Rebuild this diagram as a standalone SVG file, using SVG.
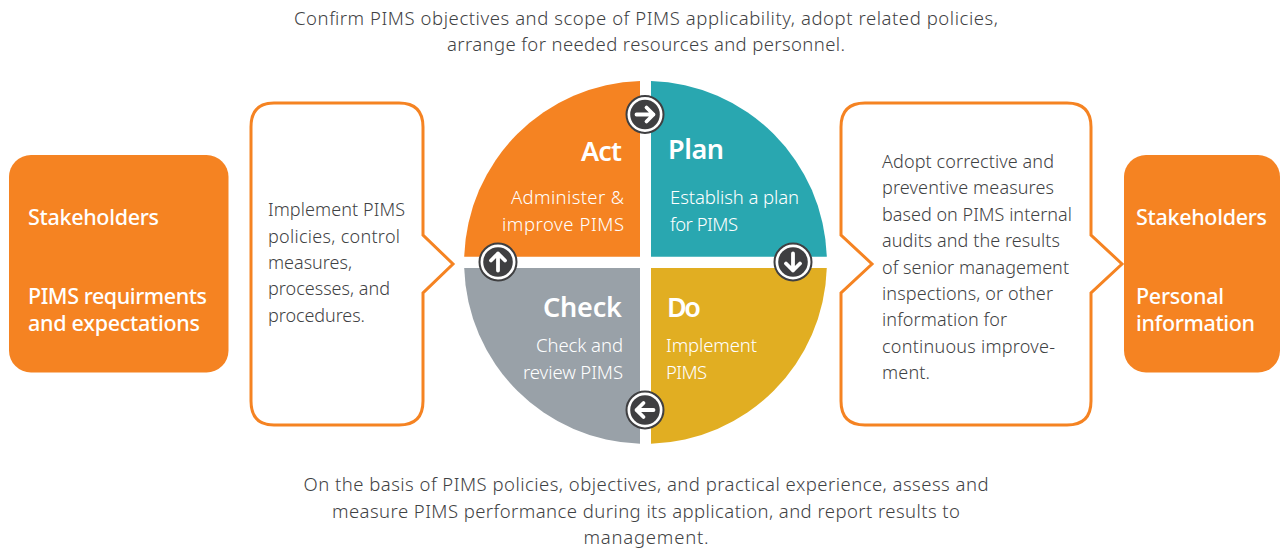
<svg xmlns="http://www.w3.org/2000/svg" width="1282" height="551" viewBox="0 0 1282 551">
<style>
text{font-family:"Noto Sans","Lato","Liberation Sans",sans-serif}
.body{font-size:18px;font-weight:300;fill:#3f4244}
.cap{font-size:18.500px;font-weight:300;fill:#3f4244;text-anchor:middle}
.side{font-size:21.500px;font-weight:500;fill:#fff}
.title{font-size:27px;font-weight:600;fill:#fff}
.sub{font-size:18.500px;font-weight:300;fill:#fff}
.end{text-anchor:end}
.box{fill:#f58322}
.call{fill:#fff;stroke:#f58322;stroke-width:3;stroke-linejoin:miter}
.ring{fill:#fff;stroke:#3f3f41;stroke-width:2}
.disc{fill:#3f3f41}
.arrow{fill:none;stroke:#fff;stroke-width:3.800;stroke-linecap:round;stroke-linejoin:round}
</style>
<defs>
<g id="badge"><circle class="ring" r="18.500"/><circle class="disc" r="14.800"/><path class="arrow" d="M-8.500 0H8.500M1.500-7L8.500 0L1.500 7"/></g>
</defs>
<g id="captions">
<text class="cap" x="646" y="25" textLength="704">Confirm PIMS objectives and scope of PIMS applicability, adopt related policies,</text>
<text class="cap" x="646" y="51" textLength="398">arrange for needed resources and personnel.</text>
<text class="cap" x="646" y="491" textLength="685">On the basis of PIMS policies, objectives, and practical experience, assess and</text>
<text class="cap" x="646" y="518" textLength="628">measure PIMS performance during its application, and report results to</text>
<text class="cap" x="646" y="544" textLength="125">management.</text>
</g>
<g id="node-stakeholders-left">
<rect class="box" x="9" y="155" width="219.500" height="217.500" rx="22"/>
<text class="side" x="28" y="225" textLength="131">Stakeholders</text>
<text class="side" x="28" y="304" textLength="179">PIMS requirments</text>
<text class="side" x="28" y="331" textLength="172">and expectations</text>
</g>
<g id="node-do-callout">
<path class="call" d="M274 103H399Q423 103 423 127V235L453 264L423 293V401Q423 425 399 425H274Q251 425 251 401V127Q251 103 274 103Z"/>
<text class="body" x="268" y="216" textLength="137">Implement PIMS</text>
<text class="body" x="268" y="243" textLength="132">policies, control</text>
<text class="body" x="268" y="269" textLength="84">measures,</text>
<text class="body" x="268" y="295" textLength="122">processes, and</text>
<text class="body" x="268" y="322" textLength="97">procedures.</text>
</g>
<g id="node-act">
<path d="M640 81V256.800H464.200A181.500 181.500 0 0 1 640 81Z" fill="#f58322"/>
<text class="title end" x="622" y="161" textLength="41">Act</text>
<text class="sub end" x="624" y="204" textLength="113">Administer &amp;</text>
<text class="sub end" x="624" y="231" textLength="122">improve PIMS</text>
</g>
<g id="node-plan">
<path d="M651 81A181.500 181.500 0 0 1 826.800 256.800H651Z" fill="#29a7b0"/>
<text class="title" x="668" y="159" textLength="56">Plan</text>
<text class="sub" x="670" y="204" textLength="129">Establish a plan</text>
<text class="sub" x="670" y="231" textLength="68">for PIMS</text>
</g>
<g id="node-check">
<path d="M640 268V443.800A181.500 181.500 0 0 1 464.200 268Z" fill="#99a1a8"/>
<text class="title end" x="622" y="317" textLength="79">Check</text>
<text class="sub end" x="623" y="352" textLength="87">Check and</text>
<text class="sub end" x="623" y="379" textLength="100">review PIMS</text>
</g>
<g id="node-do">
<path d="M651 268H826.800A181.500 181.500 0 0 1 651 443.800Z" fill="#e1ae22"/>
<text class="title" x="667" y="317" textLength="34">Do</text>
<text class="sub" x="666" y="352" textLength="91">Implement</text>
<text class="sub" x="666" y="379" textLength="41">PIMS</text>
</g>
<g id="connectors">
<use href="#badge" transform="translate(645 114.500)"/>
<use href="#badge" transform="translate(793 262) rotate(90)"/>
<use href="#badge" transform="translate(645 410) rotate(180)"/>
<use href="#badge" transform="translate(498 262) rotate(-90)"/>
</g>
<g id="node-act-callout">
<path class="call" d="M865 103H1067Q1091 103 1091 127V235L1122 264L1091 293V401Q1091 425 1067 425H865Q841 425 841 401V293L872 264L841 235V127Q841 103 865 103Z"/>
<text class="body" x="882" y="168" textLength="172">Adopt corrective and</text>
<text class="body" x="882" y="194" textLength="172">preventive measures</text>
<text class="body" x="882" y="221" textLength="190">based on PIMS internal</text>
<text class="body" x="882" y="247" textLength="178">audits and the results</text>
<text class="body" x="882" y="274" textLength="187">of senior management</text>
<text class="body" x="882" y="300" textLength="171">inspections, or other</text>
<text class="body" x="882" y="326" textLength="125">information for</text>
<text class="body" x="882" y="353" textLength="173">continuous improve-</text>
<text class="body" x="882" y="379" textLength="48">ment.</text>
</g>
<g id="node-stakeholders-right">
<rect class="box" x="1124" y="155" width="156" height="217.500" rx="22"/>
<text class="side" x="1136" y="225" textLength="131">Stakeholders</text>
<text class="side" x="1136" y="304" textLength="88">Personal</text>
<text class="side" x="1136" y="331" textLength="119">information</text>
</g>
</svg>
